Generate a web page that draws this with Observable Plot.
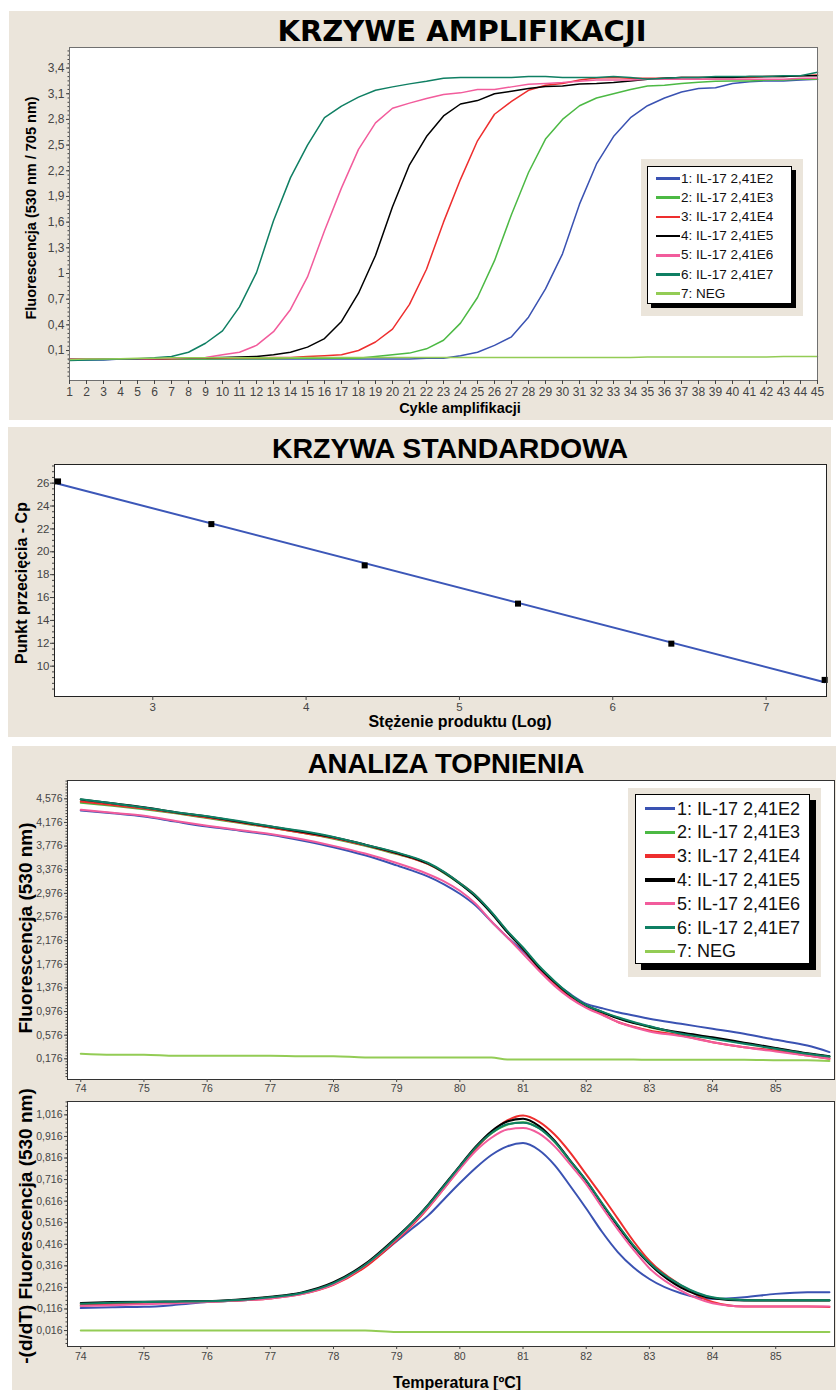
<!DOCTYPE html>
<html>
<head>
<meta charset="utf-8">
<script src="https://cdn.jsdelivr.net/npm/d3@7"></script>
<script src="https://cdn.jsdelivr.net/npm/@observablehq/plot@0.6"></script>
<style>
  html, body { margin: 0; padding: 0; background: #ffffff; }
  #page { position: relative; width: 836px; height: 1390px; overflow: hidden; font-family: "Liberation Sans", Arial, sans-serif; }
  .panel { position: absolute; background: #ebe5db; }
  .abs { position: absolute; }
  .lbl { position: absolute; white-space: nowrap; font-weight: bold; line-height: 1; color: #000; transform: translate(-50%, -50%); }
  .ylbl { position: absolute; white-space: nowrap; font-weight: bold; line-height: 1; color: #000; transform: translate(-50%, -50%) rotate(-90deg); }
  .plot svg { overflow: visible; }
  .legend-bg { position: absolute; background: #ebe5db; }
  .legend-box { position: absolute; background: #fff; border: 1px solid #000; box-sizing: border-box; }
  .legend-line { position: absolute; }
  .legend-text { position: absolute; white-space: nowrap; line-height: 1; color: #111; transform: translateY(-50%); }
</style>
</head>
<body>
<div id="page">
  <div class="panel" style="left:9px;top:11px;width:824px;height:409px"></div>
  <div class="panel" style="left:8px;top:427px;width:823px;height:310px"></div>
  <div class="panel" style="left:12px;top:746px;width:824px;height:644px"></div>

  <div id="p1" class="plot abs" style="left:0;top:0"></div>
  <div id="p2" class="plot abs" style="left:0;top:420px"></div>
  <div id="p3a" class="plot abs" style="left:0;top:740px"></div>
  <div id="p3b" class="plot abs" style="left:0;top:1090px"></div>

  <div class="lbl" style="left:462px;top:31px;font-family:'DejaVu Sans',Verdana,sans-serif;font-size:29px">KRZYWE AMPLIFIKACJI</div>
  <div class="lbl" style="left:450px;top:447.5px;font-size:28.5px">KRZYWA STANDARDOWA</div>
  <div class="lbl" style="left:446px;top:764px;font-size:27.5px">ANALIZA TOPNIENIA</div>

  <div class="ylbl" style="left:31px;top:208px;font-size:14.5px">Fluorescencja (530 nm / 705 nm)</div>
  <div class="lbl" style="left:460px;top:408px;font-size:14.5px">Cykle amplifikacji</div>

  <div class="ylbl" style="left:21.5px;top:583px;font-size:16px">Punkt przecięcia - Cp</div>
  <div class="lbl" style="left:460px;top:722px;font-size:16px">Stężenie produktu (Log)</div>

  <div class="ylbl" style="left:24.5px;top:927.5px;font-size:19px">Fluorescencja (530 nm)</div>
  <div class="ylbl" style="left:24.5px;top:1226px;font-size:19px">-(d/dT) Fluorescencja (530 nm)</div>
  <div class="lbl" style="left:457px;top:1382.5px;font-size:16px">Temperatura [ºC]</div>

  <div id="legend1"></div>
  <div id="legend3"></div>
</div>

<script>
// ---------- Series (shared by all panels) ----------
const seriesLabels = ["1: IL-17 2,41E2", "2: IL-17 2,41E3", "3: IL-17 2,41E4", "4: IL-17 2,41E5", "5: IL-17 2,41E6", "6: IL-17 2,41E7", "7: NEG"];
const seriesColors = ["#3a52b2", "#4cb944", "#ee2e2e", "#000000", "#f25c9c", "#0f7f63", "#93cc55"];

// ---------- Panel 1: amplification curves ----------
const cycles = [1,2,3,4,5,6,7,8,9,10,11,12,13,14,15,16,17,18,19,20,21,22,23,24,25,26,27,28,29,30,31,32,33,34,35,36,37,38,39,40,41,42,43,44,45];
const ampS1 = [-0.01,-0.01,-0.01,0,0,0,0,0,0,0,0,0,0,0,0,0,0,0,0,0,0,0.01,0.01,0.04,0.08,0.16,0.26,0.49,0.82,1.23,1.81,2.28,2.6,2.82,2.96,3.05,3.12,3.16,3.17,3.22,3.24,3.25,3.25,3.26,3.27];
const ampS2 = [0,0,0,0,0,0,0,0,0,0.005,0.005,0.005,0.005,0.01,0.01,0.01,0.01,0.01,0.03,0.05,0.07,0.12,0.22,0.42,0.72,1.15,1.69,2.18,2.57,2.8,2.96,3.05,3.1,3.15,3.19,3.2,3.22,3.235,3.245,3.25,3.25,3.26,3.26,3.27,3.27];
const ampS3 = [0,0,0,0,0,0,0.005,0.01,0.01,0.01,0.015,0.015,0.02,0.02,0.03,0.04,0.05,0.1,0.2,0.35,0.64,1.05,1.6,2.1,2.55,2.86,3.01,3.14,3.2,3.22,3.26,3.285,3.29,3.28,3.28,3.28,3.29,3.29,3.29,3.29,3.29,3.3,3.3,3.31,3.32];
const ampS4 = [0,0,0,0,0,0.005,0.01,0.01,0.015,0.02,0.025,0.03,0.05,0.08,0.14,0.24,0.44,0.77,1.21,1.78,2.27,2.6,2.84,2.98,3.02,3.1,3.13,3.16,3.185,3.19,3.215,3.22,3.23,3.25,3.27,3.28,3.29,3.29,3.29,3.29,3.3,3.3,3.3,3.31,3.31];
const ampS5 = [0,0,0,0,0,0.005,0.01,0.015,0.02,0.05,0.08,0.16,0.32,0.58,0.96,1.5,2.0,2.45,2.76,2.93,2.99,3.045,3.09,3.11,3.15,3.15,3.18,3.21,3.22,3.23,3.245,3.26,3.26,3.26,3.27,3.27,3.27,3.27,3.27,3.27,3.27,3.27,3.27,3.28,3.28];
const ampS6 = [-0.015,-0.01,-0.005,0,0.005,0.015,0.03,0.08,0.185,0.33,0.61,1.01,1.615,2.12,2.5,2.82,2.955,3.06,3.14,3.18,3.215,3.245,3.28,3.29,3.29,3.29,3.29,3.3,3.3,3.29,3.29,3.29,3.3,3.29,3.27,3.28,3.29,3.29,3.3,3.3,3.3,3.3,3.31,3.31,3.35];
const ampS7 = [-0.005,0,0,0.005,0.01,0.01,0.015,0.015,0.015,0.015,0.015,0.015,0.015,0.015,0.02,0.02,0.02,0.02,0.02,0.02,0.02,0.02,0.02,0.02,0.02,0.02,0.02,0.02,0.02,0.02,0.02,0.02,0.02,0.02,0.025,0.025,0.025,0.025,0.025,0.025,0.025,0.025,0.03,0.03,0.03];
const ampXTicks = cycles;
const ampYTicks = [0.1, 0.4, 0.7, 1, 1.3, 1.6, 1.9, 2.2, 2.5, 2.8, 3.1, 3.4];

// ---------- Panel 2: standard curve ----------
const stdLogConc = [2.382, 3.382, 4.382, 5.382, 6.382, 7.382];
const stdCp = [26.15, 22.42, 18.81, 15.47, 11.97, 8.8];
const stdXTicks = [3, 4, 5, 6, 7];
const stdYTicks = [10, 12, 14, 16, 18, 20, 22, 24, 26];

// ---------- Panel 3: melting analysis ----------
const meltTemps = [74,74.5,75,75.5,76,76.5,77,77.5,78,78.5,79,79.25,79.5,79.75,80,80.25,80.5,80.75,81,81.25,81.5,81.75,82,82.25,82.5,82.75,83,83.5,84,84.5,85,85.5,85.85];
const meltS1 = [4.378,4.33,4.276,4.19,4.107,4.04,3.967,3.87,3.757,3.62,3.45,3.36,3.26,3.13,2.97,2.77,2.5,2.234,2.0,1.72,1.47,1.27,1.107,1.033,0.965,0.91,0.853,0.768,0.684,0.599,0.498,0.4,0.29];
const meltS2 = [4.51,4.46,4.4,4.33,4.25,4.17,4.09,4.0,3.9,3.78,3.64,3.57,3.47,3.32,3.14,2.93,2.65,2.33,2.05,1.74,1.48,1.25,1.08,0.97,0.87,0.79,0.71,0.61,0.53,0.44,0.35,0.26,0.21];
const meltS3 = [4.53,4.47,4.41,4.34,4.26,4.18,4.09,4.0,3.91,3.79,3.65,3.57,3.47,3.33,3.15,2.94,2.65,2.33,2.03,1.71,1.45,1.22,1.05,0.93,0.8,0.72,0.655,0.571,0.457,0.373,0.317,0.232,0.176];
const meltS4 = [4.565,4.5,4.434,4.35,4.276,4.19,4.107,4.02,3.926,3.8,3.66,3.58,3.48,3.33,3.14,2.92,2.64,2.32,2.038,1.726,1.472,1.247,1.078,0.965,0.86,0.78,0.72,0.62,0.54,0.45,0.36,0.27,0.22];
const meltS5 = [4.39,4.34,4.29,4.2,4.12,4.05,3.98,3.89,3.78,3.65,3.49,3.4,3.3,3.18,3.02,2.8,2.5,2.234,1.953,1.67,1.41,1.2,1.04,0.92,0.8,0.71,0.64,0.56,0.457,0.373,0.3,0.23,0.18];
const meltS6 = [4.57,4.5,4.43,4.35,4.28,4.2,4.11,4.03,3.93,3.8,3.67,3.59,3.49,3.34,3.15,2.94,2.66,2.34,2.06,1.75,1.49,1.26,1.08,0.975,0.88,0.8,0.73,0.6,0.514,0.43,0.345,0.261,0.215];
const meltS7 = [0.261,0.245,0.245,0.227,0.227,0.227,0.227,0.22,0.22,0.2,0.2,0.2,0.2,0.2,0.2,0.2,0.2,0.164,0.164,0.164,0.164,0.164,0.164,0.164,0.164,0.164,0.16,0.16,0.16,0.16,0.153,0.15,0.14];

const derivS1 = [0.12,0.124,0.126,0.135,0.148,0.155,0.168,0.19,0.232,0.315,0.43,0.49,0.55,0.625,0.7,0.77,0.83,0.87,0.885,0.853,0.783,0.685,0.582,0.474,0.38,0.308,0.255,0.189,0.163,0.17,0.186,0.194,0.194];
const derivS2 = [0.13,0.14,0.145,0.148,0.15,0.157,0.17,0.19,0.236,0.32,0.445,0.515,0.595,0.685,0.775,0.862,0.93,0.97,0.982,0.955,0.89,0.8,0.71,0.605,0.505,0.41,0.33,0.224,0.168,0.158,0.156,0.156,0.156];
const derivS3 = [0.135,0.14,0.145,0.148,0.15,0.155,0.165,0.185,0.228,0.31,0.435,0.505,0.585,0.675,0.768,0.858,0.935,0.99,1.013,0.985,0.925,0.84,0.74,0.64,0.535,0.43,0.34,0.225,0.148,0.127,0.127,0.127,0.125];
const derivS4 = [0.144,0.148,0.15,0.151,0.152,0.16,0.173,0.193,0.24,0.325,0.45,0.52,0.6,0.69,0.78,0.868,0.94,0.985,0.998,0.965,0.896,0.803,0.71,0.603,0.5,0.405,0.325,0.215,0.166,0.155,0.155,0.155,0.155];
const derivS5 = [0.13,0.133,0.138,0.143,0.148,0.155,0.165,0.185,0.23,0.318,0.44,0.51,0.588,0.675,0.765,0.848,0.91,0.948,0.955,0.93,0.87,0.785,0.695,0.588,0.485,0.39,0.305,0.201,0.143,0.128,0.127,0.127,0.127];
const derivS6 = [0.14,0.145,0.148,0.15,0.152,0.158,0.17,0.19,0.236,0.32,0.445,0.517,0.597,0.687,0.777,0.864,0.932,0.973,0.98,0.955,0.892,0.802,0.712,0.607,0.506,0.41,0.33,0.226,0.17,0.157,0.156,0.156,0.156];
const derivS7 = [0.016,0.016,0.016,0.016,0.016,0.016,0.016,0.016,0.016,0.016,0.009,0.009,0.009,0.009,0.009,0.009,0.009,0.009,0.009,0.009,0.009,0.009,0.009,0.009,0.009,0.009,0.009,0.009,0.009,0.009,0.009,0.009,0.009];

const tempTicks = [74, 75, 76, 77, 78, 79, 80, 81, 82, 83, 84, 85];
const meltYTicks = [0.176, 0.576, 0.976, 1.376, 1.776, 2.176, 2.576, 2.976, 3.376, 3.776, 4.176, 4.576];
const derivYTicks = [0.016, 0.116, 0.216, 0.316, 0.416, 0.516, 0.616, 0.716, 0.816, 0.916, 1.016];

// ---------- helpers ----------
const comma = s => s.replace(".", ",");
const fmtShort = d => comma(String(Math.round(d * 10) / 10));
const fmt3 = d => comma(d.toFixed(3));
const colorScale = {domain: seriesLabels, range: seriesColors};
const baseStyle = {background: "transparent", fontFamily: "'Liberation Sans', Arial, sans-serif", color: "#444", overflow: "visible"};

function longData(seriesArrays, xs, xKey, yKey) {
  return seriesArrays.flatMap((vals, i) => xs.map((x, j) => ({series: seriesLabels[i], [xKey]: x, [yKey]: vals[j]})));
}
function minorTicks(lo, hi, step) {
  return d3.range(Math.round((hi - lo) / step) + 1).map(k => +(lo + k * step).toFixed(4));
}

// ---------- Panel 1 ----------
const ampData = longData([ampS1, ampS2, ampS3, ampS4, ampS5, ampS6, ampS7], cycles, "cycle", "fluor");
const p1 = Plot.plot({
  width: 836, height: 420,
  marginLeft: 69, marginRight: 19, marginTop: 47, marginBottom: 40,
  x: {domain: [1, 45]},
  y: {domain: [-0.25, 3.64]},
  color: colorScale,
  style: {...baseStyle, fontSize: "12px"},
  marks: [
    Plot.frame({fill: "#ffffff", stroke: "none"}),
    Plot.line(ampData, {x: "cycle", y: "fluor", z: "series", stroke: "series", strokeWidth: 1.5}),
    Plot.frame({stroke: "#707070"}),
    Plot.axisX(ampXTicks, {tickSize: 4, tickPadding: 3, label: null, tickFormat: d => String(d), fontSize: 12}),
    Plot.axisY(ampYTicks, {tickSize: 3, tickPadding: 2, label: null, tickFormat: fmtShort, fontSize: 12}),
    Plot.axisY(minorTicks(-0.2, 3.6, 0.05), {tickSize: 1.5, label: null, tickFormat: () => ""})
  ]
});
document.getElementById("p1").appendChild(p1);

// ---------- Panel 2 ----------
const stdData = stdLogConc.map((x, i) => ({logConc: x, cp: stdCp[i]}));
const p2 = Plot.plot({
  width: 836, height: 320,
  marginLeft: 54, marginRight: 10, marginTop: 44, marginBottom: 44,
  x: {domain: [2.359, 7.394]},
  y: {domain: [7.35, 27.63]},
  style: {...baseStyle, fontSize: "11.5px"},
  marks: [
    Plot.frame({fill: "#ffffff", stroke: "none"}),
    Plot.linearRegressionY(stdData, {x: "logConc", y: "cp", stroke: "#3c57b8", strokeWidth: 2, ci: 0}),
    Plot.dot(stdData, {x: "logConc", y: "cp", symbol: "square", r: 3.4, fill: "#000", stroke: "none"}),
    Plot.frame({stroke: "#222"}),
    Plot.axisX(stdXTicks, {tickSize: 4, tickPadding: 2, label: null, tickFormat: d => String(d), fontSize: 11.5}),
    Plot.axisY(stdYTicks, {tickSize: 4, tickPadding: 1, label: null, tickFormat: d => String(d), fontSize: 11.5}),
    Plot.axisY(minorTicks(8, 27.5, 0.5), {tickSize: 2, label: null, tickFormat: () => ""})
  ]
});
document.getElementById("p2").appendChild(p2);

// ---------- Panel 3 upper: melting curves ----------
const meltData = longData([meltS1, meltS2, meltS3, meltS4, meltS5, meltS6, meltS7], meltTemps, "temp", "fluor");
const p3a = Plot.plot({
  width: 836, height: 350,
  marginLeft: 67, marginRight: 2, marginTop: 40, marginBottom: 11,
  x: {domain: [73.79, 85.93]},
  y: {domain: [-0.174, 4.886]},
  color: colorScale,
  style: {...baseStyle, fontSize: "10.5px"},
  marks: [
    Plot.frame({fill: "#ffffff", stroke: "none"}),
    Plot.line(meltData, {x: "temp", y: "fluor", z: "series", stroke: "series", strokeWidth: 2, curve: "monotone-x"}),
    Plot.frame({stroke: "#333"}),
    Plot.axisX(tempTicks, {tickSize: 3, tickPadding: 2, label: null, tickFormat: d => String(d), fontSize: 10.5}),
    Plot.axisY(meltYTicks, {tickSize: 3, tickPadding: 2, label: null, tickFormat: fmt3, fontSize: 10.5}),
    Plot.axisY(minorTicks(-0.124, 4.876, 0.05), {tickSize: 1.5, label: null, tickFormat: () => ""})
  ]
});
document.getElementById("p3a").appendChild(p3a);

// ---------- Panel 3 lower: derivative ----------
const derivData = longData([derivS1, derivS2, derivS3, derivS4, derivS5, derivS6, derivS7], meltTemps, "temp", "deriv");
const p3b = Plot.plot({
  width: 836, height: 300,
  marginLeft: 67, marginRight: 2, marginTop: 11, marginBottom: 44,
  x: {domain: [73.79, 85.93]},
  y: {domain: [-0.058, 1.078]},
  color: colorScale,
  style: {...baseStyle, fontSize: "10.5px"},
  marks: [
    Plot.frame({fill: "#ffffff", stroke: "none"}),
    Plot.line(derivData, {x: "temp", y: "deriv", z: "series", stroke: "series", strokeWidth: 2, curve: "monotone-x"}),
    Plot.frame({stroke: "#333"}),
    Plot.axisX(tempTicks, {tickSize: 3, tickPadding: 3, label: null, tickFormat: d => String(d), fontSize: 10.5}),
    Plot.axisY(derivYTicks, {tickSize: 3, tickPadding: 2, label: null, tickFormat: fmt3, fontSize: 10.5}),
    Plot.axisY(minorTicks(-0.044, 1.076, 0.02), {tickSize: 1.5, label: null, tickFormat: () => ""})
  ]
});
document.getElementById("p3b").appendChild(p3b);

// ---------- Legends (HTML, from the series arrays) ----------
function buildLegend(el, o) {
  let html = `<div class="legend-bg" style="left:${o.bgL}px;top:${o.bgT}px;width:${o.bgW}px;height:${o.bgH}px"></div>`;
  html += `<div class="legend-box" style="left:${o.boxL}px;top:${o.boxT}px;width:${o.boxW}px;height:${o.boxH}px;box-shadow:${o.sh}px ${o.sh}px 0 #000"></div>`;
  seriesLabels.forEach((lab, i) => {
    const cy = o.row0 + i * o.rowStep;
    html += `<div class="legend-line" style="left:${o.lineL}px;top:${cy - o.lineH / 2}px;width:${o.lineW}px;height:${o.lineH}px;background:${seriesColors[i]}"></div>`;
    html += `<div class="legend-text" style="left:${o.textL}px;top:${cy}px;font-size:${o.fs}px">${lab}</div>`;
  });
  el.innerHTML = html;
}
buildLegend(document.getElementById("legend1"), {
  bgL: 641, bgT: 159, bgW: 162, bgH: 157,
  boxL: 647, boxT: 166, boxW: 145, boxH: 138, sh: 4,
  row0: 178.5, rowStep: 19.2, lineL: 656, lineW: 24, lineH: 2.5, textL: 681, fs: 13.5
});
buildLegend(document.getElementById("legend3"), {
  bgL: 628, bgT: 788, bgW: 193, bgH: 189,
  boxL: 635, boxT: 794, boxW: 175, boxH: 170, sh: 6,
  row0: 808.5, rowStep: 23.8, lineL: 645, lineW: 30, lineH: 3.5, textL: 677, fs: 18
});
</script>
</body>
</html>
